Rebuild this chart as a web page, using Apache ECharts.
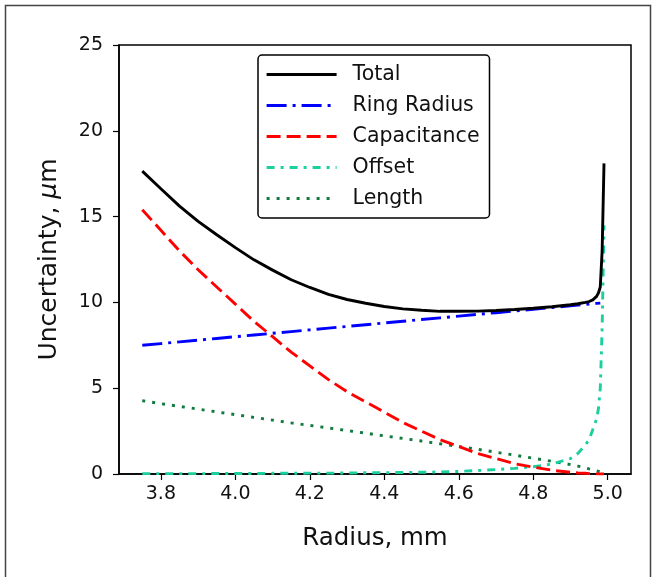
<!DOCTYPE html>
<html>
<head>
<meta charset="utf-8">
<script src="https://cdn.jsdelivr.net/npm/echarts@6/dist/echarts.min.js"></script>
<style>html,body{margin:0;padding:0;background:#fff;}#c{width:656px;height:577px;}</style>
</head>
<body>
<div id="c"></div>
<script>
// Radius values (mm)
const radius = [3.75,3.80,3.85,3.90,3.95,4.00,4.05,4.10,4.15,4.20,4.25,4.30,4.35,4.40,4.45,4.50,4.55,4.60,4.65,4.70,4.75,4.80,4.85,4.90,4.92,4.94,4.95,4.96,4.97,4.975,4.98,4.985,4.99];
// Uncertainty values (µm)
const total = [17.65,16.62,15.61,14.72,13.94,13.19,12.48,11.88,11.32,10.87,10.47,10.17,9.95,9.76,9.62,9.54,9.48,9.48,9.49,9.53,9.59,9.66,9.75,9.86,9.92,10.0,10.05,10.15,10.35,10.55,10.9,13.0,18.1];
const ringRadius = [7.5,7.6,7.7,7.8,7.9,8.0,8.1,8.2,8.3,8.4,8.5,8.6,8.7,8.8,8.9,9.0,9.1,9.2,9.3,9.4,9.5,9.6,9.7,9.8,9.84,9.88,9.9,9.92,9.94,9.95,9.96,null,null];
const capacitance = [15.4,14.2,13.0,11.9,10.9,9.9,8.9,8.0,7.1,6.3,5.5,4.8,4.2,3.6,3.0,2.5,2.0,1.6,1.2,0.9,0.6,0.4,0.22,0.1,0.06,0.04,0.02,0.02,0.01,0.01,0,0,0];
const offset = [0.02,0.02,0.02,0.02,0.03,0.03,0.03,0.04,0.04,0.05,0.05,0.06,0.07,0.08,0.09,0.1,0.12,0.15,0.2,0.26,0.33,0.42,0.58,0.9,1.2,1.7,2.0,2.6,3.2,3.8,5.0,8.5,14.5];
const lengthU = [4.27,4.1,3.94,3.78,3.62,3.46,3.3,3.14,2.98,2.83,2.68,2.53,2.38,2.22,2.07,1.92,1.76,1.6,1.44,1.27,1.1,0.92,0.74,0.55,0.46,0.36,0.3,0.25,0.18,0.15,0.12,0.08,0.05];
const xTicks = [3.8,4.0,4.2,4.4,4.6,4.8,5.0];
const yTicks = [0,5,10,15,20,25];
const seriesNames = ['Total','Ring Radius','Capacitance','Offset','Length'];

const pair = arr => radius.map((r,i) => [r, arr[i]]);
const FONT = 'DejaVu Sans';

const chart = echarts.init(document.getElementById('c'));
const mk = (name, arr, color, type, width, z) => ({
  name, type:'line', data: pair(arr), showSymbol:false, symbol:'none', z,
  lineStyle:{color, width, type, cap:'butt'}, itemStyle:{color}, connectNulls:false
});
chart.setOption({
  animation:false,
  backgroundColor:'#fff',
  graphic:[{type:'rect', shape:{x:5.5,y:5.5,width:645,height:590}, style:{fill:'none', stroke:'#444', lineWidth:1.5}, silent:true}],
  grid:{left:119, right:25, top:45, bottom:103, show:true, borderColor:'#000', borderWidth:1.5, containLabel:false},
  legend:{
    orient:'vertical', left:258, top:55,
    data:seriesNames,
    itemWidth:70, itemHeight:14, itemGap:10,
    padding:[9,10,9,7],
    itemStyle:{opacity:0},
    lineStyle:{width:3.2},
    backgroundColor:'#fff', borderColor:'#000', borderWidth:1.5, borderRadius:4,
    textStyle:{fontFamily:FONT, fontSize:20.5, color:'#111', padding:[0,0,0,11]}
  },
  xAxis:{
    type:'value', min:3.6875, max:5.0625,
    name:'Radius, mm', nameLocation:'middle', nameGap:52,
    nameTextStyle:{fontFamily:FONT, fontSize:24.5, color:'#111'},
    axisLine:{show:true, onZero:false, lineStyle:{color:'#000', width:1.5}},
    axisTick:{show:true, length:6, lineStyle:{color:'#000', width:1.2}, customValues:xTicks},
    axisLabel:{fontFamily:FONT, fontSize:19, color:'#111', margin:11, customValues:xTicks, formatter:v=>v.toFixed(1)},
    splitLine:{show:false}
  },
  yAxis:{
    type:'value', min:0, max:25, interval:5,
    name:'Uncertainty, {i|μ}m', nameLocation:'middle', nameGap:57,
    nameTextStyle:{fontFamily:FONT, fontSize:25, color:'#111', rich:{i:{fontFamily:FONT, fontSize:25, fontStyle:'italic', color:'#111'}}},
    axisLine:{show:true, onZero:false, lineStyle:{color:'#000', width:1.5}},
    axisTick:{show:true, length:6, lineStyle:{color:'#000', width:1.2}},
    axisLabel:{fontFamily:FONT, fontSize:19, color:'#111', margin:16, customValues:yTicks},
    splitLine:{show:false}
  },
  series:[
    mk('Total', total, '#000000', 'solid', 2.9, 5),
    mk('Ring Radius', ringRadius, '#0000ff', [20,6,3,6], 2.9, 4),
    mk('Capacitance', capacitance, '#ff0000', [14,6], 2.9, 3),
    mk('Offset', offset, '#1ccf9f', [8,6,3,6], 2.9, 2),
    mk('Length', lengthU, '#137a3f', [3,7], 2.9, 1)
  ]
});
</script>
</body>
</html>
